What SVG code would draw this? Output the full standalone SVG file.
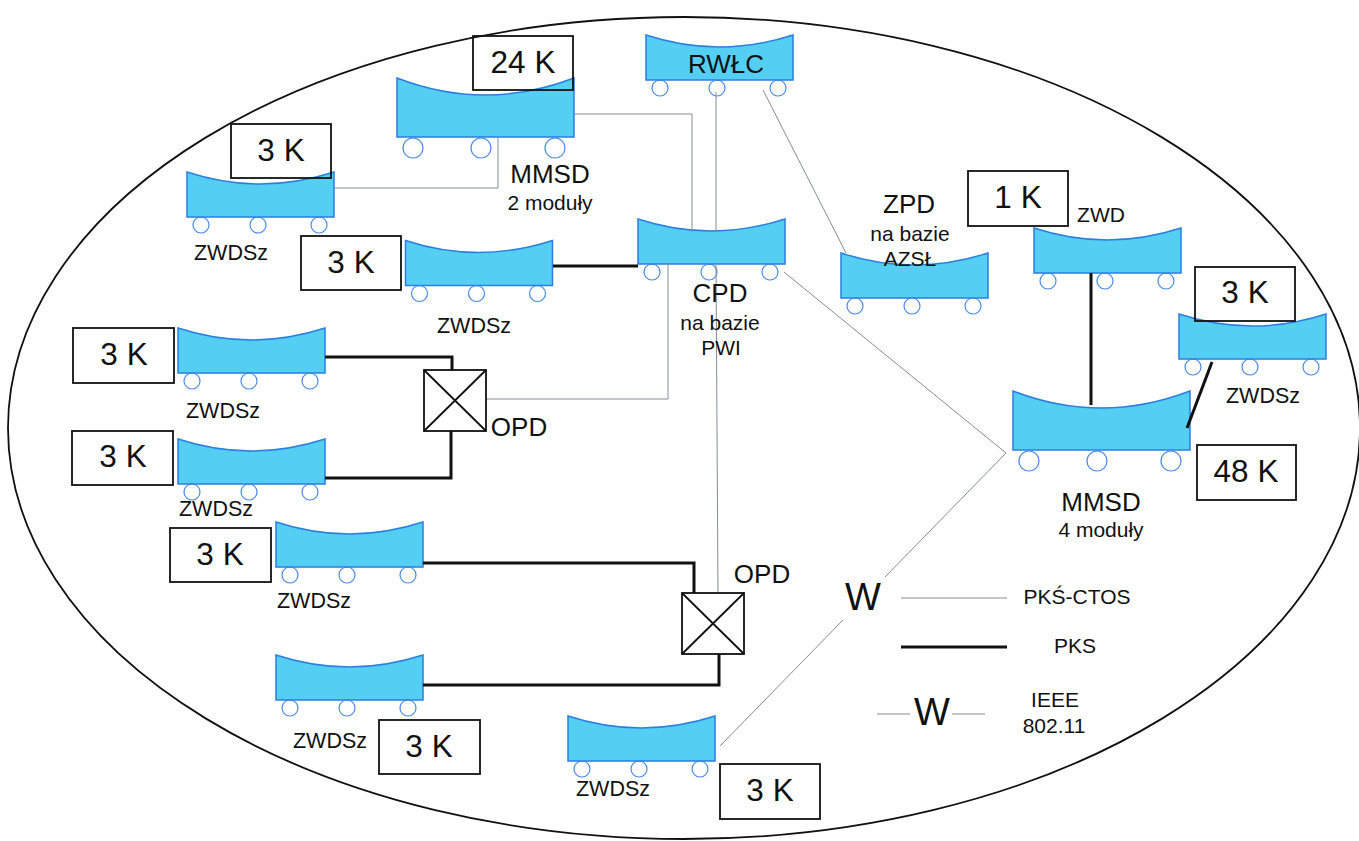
<svg xmlns="http://www.w3.org/2000/svg" width="1359" height="841" viewBox="0 0 1359 841">
<style>
text{font-family:"Liberation Sans",Arial,sans-serif;fill:#111;text-anchor:middle}
.c{fill:#54cff3;stroke:#2a7fe0;stroke-width:1.5}
.w{fill:#fff;stroke:#4a8ae6;stroke-width:1.2}
.b{fill:none;stroke:#111;stroke-width:1.8}
.bw{fill:#fff;stroke:#111;stroke-width:1.8}
.thin{fill:none;stroke:#858d98;stroke-width:1}
.thick{fill:none;stroke:#111;stroke-width:3}
.k{font-size:31.5px}.m{font-size:26px}.s{font-size:21px}.z{font-size:21.5px}.l{font-size:21px}.big{font-size:38px}
</style>
<defs>
<path id="cart" class="c" d="M0 0Q73 24 147 0V45H0Z"/>
<path id="cartL" class="c" d="M0 0Q88 34 177 0V59H0Z"/>
<g id="wh"><circle class="w" cx="14" cy="53" r="8"/><circle class="w" cx="71" cy="53" r="8"/><circle class="w" cx="132" cy="53" r="8"/></g>
<g id="whL"><circle class="w" cx="16" cy="70" r="10"/><circle class="w" cx="84" cy="70" r="10"/><circle class="w" cx="158" cy="70" r="10"/></g>
<g id="opd"><rect class="bw" x="0" y="0" width="62" height="61"/><path class="b" d="M0 0L62 61M62 0L0 61"/></g>
</defs>
<ellipse id="boundary" cx="684" cy="428" rx="676" ry="411" fill="none" stroke="#111" stroke-width="1.8"/>

<g id="n-rwlc"><use href="#wh" x="646" y="35"/><use href="#cart" x="646" y="35"/><text class="m" x="726" y="73">RWŁC</text></g>
<g id="n-mmsd2"><use href="#whL" x="397" y="78"/><use href="#cartL" x="397" y="78"/><text class="m" x="550" y="183">MMSD</text><text class="s" x="550" y="210">2 moduły</text><rect class="b" x="473" y="36" width="100" height="54"/><text class="k" x="523" y="73">24 K</text></g>
<g id="n-z1"><use href="#wh" x="187" y="172"/><use href="#cart" x="187" y="172"/><text class="z" x="231" y="260">ZWDSz</text><rect class="b" x="231" y="124" width="100" height="54"/><text class="k" x="281" y="161">3 K</text></g>
<g id="n-z2"><use href="#wh" x="405.500" y="240.500"/><use href="#cart" x="405.500" y="240.500"/><text class="z" x="474" y="333">ZWDSz</text><rect class="bw" x="301" y="236" width="100" height="54"/><text class="k" x="351" y="273">3 K</text></g>
<g id="n-cpd"><use href="#wh" x="638" y="219"/><use href="#cart" x="638" y="219"/></g>
<g id="n-zpd"><use href="#wh" x="841" y="253"/><use href="#cart" x="841" y="253"/><text class="m" x="909" y="213">ZPD</text><text class="s" x="910" y="241">na bazie</text><text class="s" x="910" y="266">AZSŁ</text></g>
<g id="n-zwd"><use href="#wh" x="1034" y="228"/><use href="#cart" x="1034" y="228"/><text class="s" x="1101" y="222">ZWD</text><rect class="bw" x="968" y="171" width="100" height="55"/><text class="k" x="1018" y="208">1 K</text></g>
<g id="n-zr"><use href="#wh" x="1179" y="314"/><use href="#cart" x="1179" y="314"/><text class="z" x="1263" y="403">ZWDSz</text><rect class="b" x="1195" y="267" width="100" height="54"/><text class="k" x="1245" y="303">3 K</text></g>
<g id="n-mmsd4"><use href="#whL" x="1013" y="391"/><use href="#cartL" x="1013" y="391"/><text class="m" x="1101" y="511">MMSD</text><text class="s" x="1101" y="537">4 moduły</text><rect class="bw" x="1197" y="445" width="99" height="55"/><text class="k" x="1246" y="482">48 K</text></g>
<g id="n-l1"><use href="#wh" x="178" y="328"/><use href="#cart" x="178" y="328"/><text class="z" x="223" y="418">ZWDSz</text><rect class="bw" x="73" y="328" width="101" height="55"/><text class="k" x="124" y="365">3 K</text></g>
<g id="n-l2"><use href="#wh" x="178" y="439"/><use href="#cart" x="178" y="439"/><text class="z" x="216" y="516">ZWDSz</text><rect class="bw" x="72" y="431" width="101" height="54"/><text class="k" x="123" y="467">3 K</text></g>
<g id="n-l3"><use href="#wh" x="276" y="522"/><use href="#cart" x="276" y="522"/><text class="z" x="314" y="608">ZWDSz</text><rect class="bw" x="170" y="528" width="101" height="54"/><text class="k" x="220" y="565">3 K</text></g>
<g id="n-l4"><use href="#wh" x="276" y="655"/><use href="#cart" x="276" y="655"/><text class="z" x="330" y="748">ZWDSz</text><rect class="bw" x="379" y="720" width="101" height="54"/><text class="k" x="429" y="757">3 K</text></g>
<g id="n-l5"><use href="#wh" x="568" y="716"/><use href="#cart" x="568" y="716"/><text class="z" x="613" y="796">ZWDSz</text><rect class="bw" x="720" y="764" width="100" height="55"/><text class="k" x="770" y="801">3 K</text></g>

<g id="connectors">
<path class="thin" d="M574 114H692V232"/>
<path class="thin" d="M716 92V232"/>
<path class="thin" d="M716 264L718 593"/>
<path class="thin" d="M763 90L846 253"/>
<path class="thin" d="M334 188H498V138"/>
<path class="thin" d="M668 264V399H486"/>
<path class="thin" d="M784 272L1006 453L885 577"/>
<path class="thin" d="M843 620L720 746"/>
<path class="thick" d="M553 266H638"/>
<path class="thick" d="M325 357H452V370"/>
<path class="thick" d="M325 478H451V431"/>
<path class="thick" d="M423 563H694V593"/>
<path class="thick" d="M423 685H719V654"/>
<path class="thick" d="M1091 273V405"/>
<path class="thick" d="M1212 362L1187 428"/>
</g>

<g id="labels-cpd"><text class="m" x="720" y="302">CPD</text><text class="s" x="720" y="330">na bazie</text><text class="s" x="721" y="355">PWI</text></g>
<g id="n-opd1"><use href="#opd" x="424" y="370"/><text class="m" x="519" y="436">OPD</text></g>
<g id="n-opd2"><use href="#opd" x="682" y="593"/><text class="m" x="762" y="583">OPD</text></g>
<g id="n-w"><text class="big" x="863" y="610">W</text></g>

<g id="legend">
<path class="thin" d="M901 598H1007"/><text class="l" x="1077" y="604">PKŚ-CTOS</text>
<path class="thick" d="M901 647H1007"/><text class="l" x="1075" y="653">PKS</text>
<path class="thin" d="M877 714H910M952 714H985"/><text class="big" x="932" y="725">W</text>
<text class="l" x="1055" y="707">IEEE</text><text class="l" x="1054" y="733">802.11</text>
</g>
</svg>
